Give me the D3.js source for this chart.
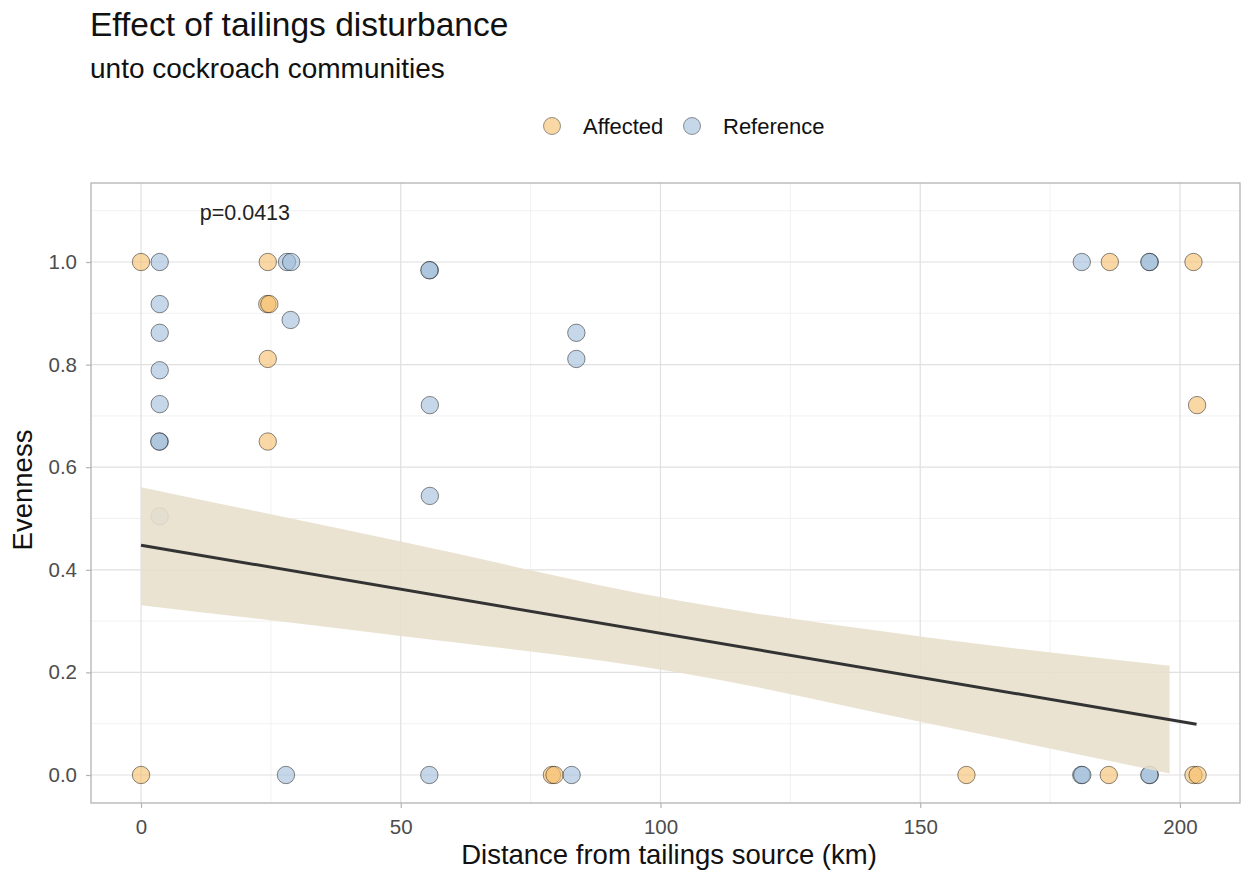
<!DOCTYPE html>
<html>
<head>
<meta charset="utf-8">
<script src="https://cdn.jsdelivr.net/npm/d3@7"></script>
<style>
  body { margin: 0; background: #fff; }
  svg { font-family: "Liberation Sans", Arial, Helvetica, sans-serif; }
</style>
</head>
<body>
<div id="chart"></div>
<script>
// Evenness vs distance from tailings source, split by site type.
const affectedX = [0, 0, 24.4, 24.3, 24.7, 24.4, 24.4, 79.1, 79.6, 158.9, 186.5, 186.3, 202.6, 203.3, 202.6, 203.4];
const affectedY = [1, 0, 1, 0.918, 0.918, 0.811, 0.65, 0, 0, 0, 1, 0, 1, 0.721, 0, 0];

const referenceX = [3.6, 3.6, 3.6, 3.6, 3.6, 3.6, 3.5, 3.6, 28.1, 28.9, 28.8, 27.9, 55.6, 55.5, 55.6, 55.6, 55.5, 83.8, 83.8, 82.9, 181.1, 181.0, 181.2, 194.2, 194.1, 194.2, 194.1];
const referenceY = [1, 0.918, 0.862, 0.789, 0.723, 0.65, 0.65, 0.504, 1, 1, 0.887, 0, 0.984, 0.984, 0.721, 0.544, 0, 0.862, 0.811, 0, 1, 0, 0, 1, 1, 0, 0];

// linear fit and its confidence band
const fitX = [0, 203.2];
const fitY = [0.448, 0.099];
const bandX = [0, 50, 104, 150, 198];
const bandUpper = [0.561, 0.455, 0.339, 0.270, 0.213];
const bandLower = [0.331, 0.271, 0.199, 0.104, 0.003];

const xTicks = [0, 50, 100, 150, 200];
const xMinor = [25, 75, 125, 175];
const yTicks = [0, 0.2, 0.4, 0.6, 0.8, 1.0];
const yMinor = [0.1, 0.3, 0.5, 0.7, 0.9, 1.1];

const groups = ['Affected', 'Reference'];
const groupFill = { Affected: '#f5be69', Reference: '#9ebcd9' };

const pValueLabel = 'p=0.0413';

const W = 1253, H = 871;
const panel = { left: 91, right: 1240, top: 183, bottom: 803 };

const svg = d3.select('#chart').append('svg')
    .attr('width', W)
    .attr('height', H);

const x = d3.scaleLinear().domain([-9.63, 211.56]).range([panel.left, panel.right]);
const y = d3.scaleLinear().domain([-0.0546, 1.154]).range([panel.bottom, panel.top]);

// Titles
svg.append('text')
    .attr('x', 90).attr('y', 36)
    .attr('font-size', 33.5).attr('fill', '#111')
    .text('Effect of tailings disturbance');
svg.append('text')
    .attr('x', 90).attr('y', 78)
    .attr('font-size', 28).attr('fill', '#111')
    .text('unto cockroach communities');

// Legend
const legend = svg.append('g').attr('transform', 'translate(552,126)');
const legendItems = legend.selectAll('g')
    .data(groups)
    .join('g')
    .attr('transform', (d, i) => `translate(${i * 140},0)`);
legendItems.append('circle')
    .attr('r', 8.5)
    .attr('fill', d => groupFill[d])
    .attr('fill-opacity', 0.6)
    .attr('stroke', '#000')
    .attr('stroke-opacity', 0.4)
    .attr('stroke-width', 1);
legendItems.append('text')
    .attr('x', 31).attr('dy', '0.36em')
    .attr('font-size', 22).attr('fill', '#111')
    .text(d => d);

// Panel gridlines
const grid = svg.append('g');
grid.selectAll('line.xminor').data(xMinor).join('line')
    .attr('x1', d => x(d)).attr('x2', d => x(d))
    .attr('y1', panel.top).attr('y2', panel.bottom)
    .attr('stroke', '#eeeeee').attr('stroke-width', 0.8);
grid.selectAll('line.yminor').data(yMinor).join('line')
    .attr('y1', d => y(d)).attr('y2', d => y(d))
    .attr('x1', panel.left).attr('x2', panel.right)
    .attr('stroke', '#eeeeee').attr('stroke-width', 0.8);
grid.selectAll('line.xmajor').data(xTicks).join('line')
    .attr('x1', d => x(d)).attr('x2', d => x(d))
    .attr('y1', panel.top).attr('y2', panel.bottom)
    .attr('stroke', '#e0e0e0').attr('stroke-width', 1.2);
grid.selectAll('line.ymajor').data(yTicks).join('line')
    .attr('y1', d => y(d)).attr('y2', d => y(d))
    .attr('x1', panel.left).attr('x2', panel.right)
    .attr('stroke', '#e0e0e0').attr('stroke-width', 1.2);

// Points
const points = [];
affectedX.forEach((v, i) => points.push({ x: v, y: affectedY[i], g: 'Affected' }));
referenceX.forEach((v, i) => points.push({ x: v, y: referenceY[i], g: 'Reference' }));

svg.append('g').selectAll('circle')
    .data(points)
    .join('circle')
    .attr('cx', d => x(d.x))
    .attr('cy', d => y(d.y))
    .attr('r', 8.7)
    .attr('fill', d => groupFill[d.g])
    .attr('fill-opacity', 0.6)
    .attr('stroke', '#000')
    .attr('stroke-opacity', 0.45)
    .attr('stroke-width', 1);

// Confidence band + fit line
const band = bandX.map((v, i) => ({ x: v, lo: bandLower[i], hi: bandUpper[i] }));
svg.append('path')
    .datum(band)
    .attr('d', d3.area().x(d => x(d.x)).y0(d => y(d.lo)).y1(d => y(d.hi)).curve(d3.curveMonotoneX))
    .attr('fill', '#e8dfcc')
    .attr('fill-opacity', 0.88);

svg.append('path')
    .datum(fitX.map((v, i) => [v, fitY[i]]))
    .attr('d', d3.line().x(d => x(d[0])).y(d => y(d[1])))
    .attr('fill', 'none')
    .attr('stroke', '#333')
    .attr('stroke-width', 3);

// p-value annotation
svg.append('text')
    .attr('x', x(20)).attr('y', y(1.097))
    .attr('dy', '0.36em')
    .attr('text-anchor', 'middle')
    .attr('font-size', 21.5).attr('fill', '#222')
    .text(pValueLabel);

// Panel border
svg.append('rect')
    .attr('x', panel.left).attr('y', panel.top)
    .attr('width', panel.right - panel.left)
    .attr('height', panel.bottom - panel.top)
    .attr('fill', 'none')
    .attr('stroke', '#b3b3b3')
    .attr('stroke-width', 1.3);

// Axes
const xAxis = svg.append('g')
    .attr('transform', `translate(0,${panel.bottom})`)
    .call(d3.axisBottom(x).tickValues(xTicks).tickSize(5).tickPadding(11).tickFormat(d3.format('d')));
const yAxis = svg.append('g')
    .attr('transform', `translate(${panel.left},0)`)
    .call(d3.axisLeft(y).tickValues(yTicks).tickSize(5).tickPadding(9).tickFormat(d3.format('.1f')));
[xAxis, yAxis].forEach(ax => {
    ax.select('.domain').remove();
    ax.selectAll('.tick line').attr('stroke', '#b3b3b3').attr('stroke-width', 1.2);
    ax.selectAll('.tick text')
        .attr('font-size', 20.5)
        .attr('fill', '#4d4d4d')
        .attr('font-family', '"Liberation Sans", Arial, sans-serif');
});

svg.append('text')
    .attr('x', 669).attr('y', 864)
    .attr('text-anchor', 'middle')
    .attr('font-size', 27.5).attr('fill', '#111')
    .text('Distance from tailings source (km)');
svg.append('text')
    .attr('transform', `translate(32,490) rotate(-90)`)
    .attr('text-anchor', 'middle')
    .attr('font-size', 27.5).attr('fill', '#111')
    .text('Evenness');
</script>
</body>
</html>
